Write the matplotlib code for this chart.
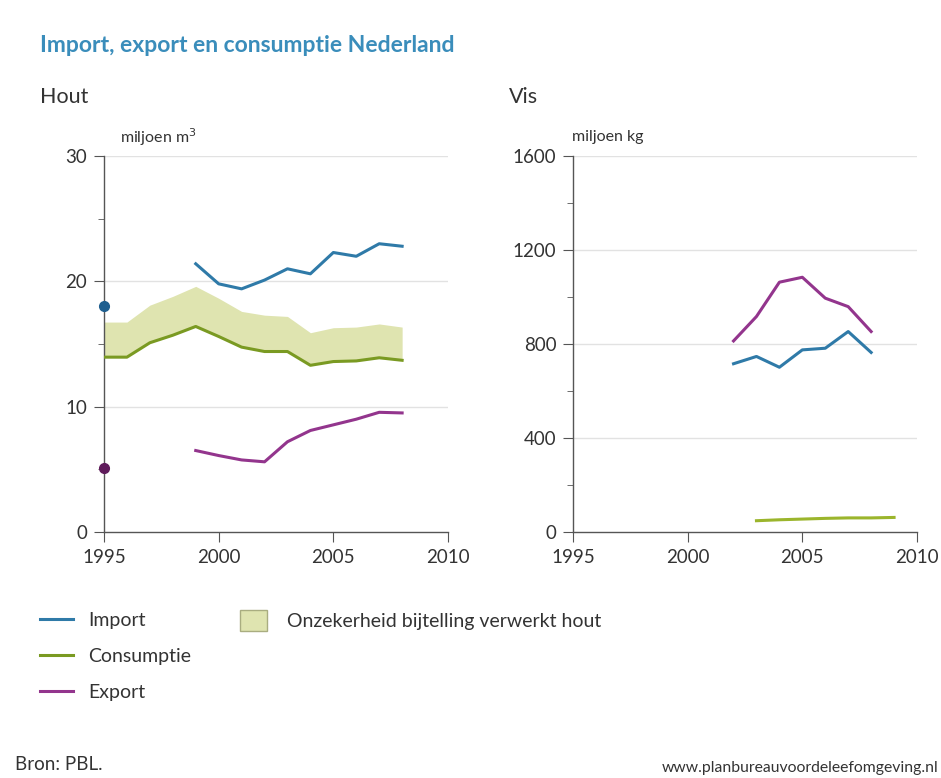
import matplotlib

matplotlib.use("Agg")
import matplotlib.pyplot as plt
from matplotlib.patches import Patch
from matplotlib.ticker import MultipleLocator

plt.rcParams["font.family"] = ["Lato", "DejaVu Sans"]

# Hout (miljoen m3)
hout_years_imp = [1999, 2000, 2001, 2002, 2003, 2004, 2005, 2006, 2007, 2008]
hout_import = [21.4, 19.8, 19.4, 20.1, 21.0, 20.6, 22.3, 22.0, 23.0, 22.8]
hout_export = [6.5, 6.1, 5.75, 5.6, 7.2, 8.1, 8.55, 9.0, 9.55, 9.5]
hout_years_cons = list(range(1995, 2009))
hout_cons = [13.95, 13.95, 15.1, 15.7, 16.4, 15.6, 14.75, 14.4, 14.4, 13.3, 13.6, 13.65, 13.9, 13.7]
hout_band_top = [16.75, 16.75, 18.1, 18.8, 19.6, 18.65, 17.6, 17.3, 17.2, 15.9, 16.3, 16.35, 16.6, 16.35]
dot_year = 1995
dot_import = 18.0
dot_export = 5.1

# Vis (miljoen kg)
vis_years = [2002, 2003, 2004, 2005, 2006, 2007, 2008]
vis_import = [716, 747, 701, 775, 782, 853, 764]
vis_export = [813, 917, 1063, 1084, 995, 959, 853]
vis_years_cons = [2003, 2004, 2005, 2006, 2007, 2008, 2009]
vis_cons = [48, 52, 55, 58, 60, 60, 62]

C_IMP = "#2f7aa8"
C_CONS = "#7a9a22"
C_EXP = "#93358d"
C_BAND = "#dfe4b0"
C_AXIS = "#555555"
C_TEXT = "#333333"

fig = plt.figure(figsize=(9.41, 7.78), dpi=100)
W, H = 941, 778


def px_axes(x0, y0, x1, y1):
    return fig.add_axes([x0 / W, 1 - y1 / H, (x1 - x0) / W, (y1 - y0) / H])


def style(ax, ymax, major, minor):
    ax.set_xlim(1995, 2010)
    ax.set_ylim(0, ymax)
    ax.set_xticks([1995, 2000, 2005, 2010])
    ax.yaxis.set_major_locator(MultipleLocator(major))
    ax.yaxis.set_minor_locator(MultipleLocator(minor))
    for s in ("top", "right"):
        ax.spines[s].set_visible(False)
    for s in ("left", "bottom"):
        ax.spines[s].set_color(C_AXIS)
        ax.spines[s].set_linewidth(1.0)
    ax.tick_params(axis="both", which="major", length=7, color=C_AXIS,
                   labelsize=13.5, labelcolor=C_TEXT, pad=5)
    ax.tick_params(axis="y", which="minor", length=4, color=C_AXIS)
    ax.set_axisbelow(True)
    for v in range(major, ymax + 1, major):
        ax.axhline(v, color="#e2e2e2", lw=1.0, zorder=0)


ax1 = px_axes(104, 156, 448, 532)
style(ax1, 30, 10, 5)
ax1.fill_between(hout_years_cons, hout_cons, hout_band_top, color=C_BAND, lw=0, zorder=1)
l_imp, = ax1.plot(hout_years_imp, hout_import, color=C_IMP, lw=2.2, zorder=3)
l_cons, = ax1.plot(hout_years_cons, hout_cons, color=C_CONS, lw=2.2, zorder=3)
l_exp, = ax1.plot(hout_years_imp, hout_export, color=C_EXP, lw=2.2, zorder=3)
ax1.plot([dot_year], [dot_import], "o", color="#1f5f8f", ms=7, clip_on=False, zorder=4)
ax1.plot([dot_year], [dot_export], "o", color="#5e1a5a", ms=7, clip_on=False, zorder=4)

ax2 = px_axes(573, 156, 917, 532)
style(ax2, 1600, 400, 200)
ax2.plot(vis_years, vis_import, color=C_IMP, lw=2.2, zorder=3)
ax2.plot(vis_years, vis_export, color=C_EXP, lw=2.2, zorder=3)
ax2.plot(vis_years_cons, vis_cons, color="#9bb52c", lw=2.2, zorder=3)

fig.text(40 / W, 1 - 45 / H, "Import, export en consumptie Nederland", color="#3a8dbb",
         fontsize=16.5, fontweight="bold", va="center")
fig.text(40 / W, 1 - 97 / H, "Hout", color=C_TEXT, fontsize=15.5, va="center")
fig.text(509 / W, 1 - 97 / H, "Vis", color=C_TEXT, fontsize=15.5, va="center")
fig.text(120 / W, 1 - 137 / H, "miljoen m$^3$", color=C_TEXT, fontsize=11.5, va="center")
fig.text(572 / W, 1 - 137 / H, "miljoen kg", color=C_TEXT, fontsize=11.5, va="center")

leg_kw = dict(loc="upper left", frameon=False, fontsize=14, labelcolor=C_TEXT,
              borderpad=0, borderaxespad=0)
fig.legend([l_imp, l_cons, l_exp], ["Import", "Consumptie", "Export"],
           bbox_to_anchor=(40 / W, 1 - 612 / H), handlelength=1.7,
           handletextpad=0.77, labelspacing=0.97, **leg_kw)
fig.legend([Patch(facecolor=C_BAND, edgecolor="#a9ad80", lw=1)],
           ["Onzekerheid bijtelling verwerkt hout"],
           bbox_to_anchor=(240 / W, 1 - 610 / H), handlelength=1.4, handleheight=1.3,
           handletextpad=1.0, **leg_kw)

fig.text(15 / W, 1 - 765 / H, "Bron: PBL.", color=C_TEXT, fontsize=13.5, va="center")
fig.text(938 / W, 1 - 768 / H, "www.planbureauvoordeleefomgeving.nl", color=C_TEXT,
         fontsize=11.3, va="center", ha="right")

fig.savefig("out.png", dpi=100, facecolor="white")
